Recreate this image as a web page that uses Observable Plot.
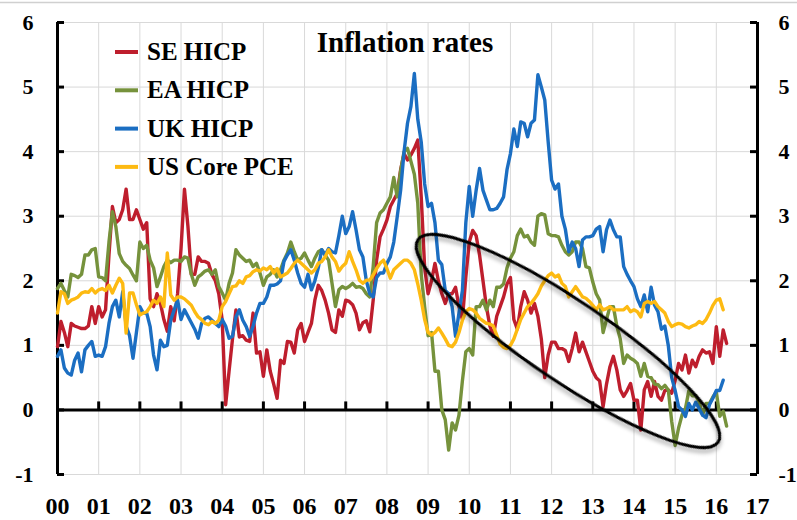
<!DOCTYPE html>
<html><head><meta charset="utf-8">
<script src="https://cdn.jsdelivr.net/npm/d3@7"></script>
<script src="https://cdn.jsdelivr.net/npm/@observablehq/plot@0.6"></script>
<style>
body{margin:0;background:#fff;}
#chart svg text{font-family:"Liberation Serif","Times New Roman",serif;font-weight:bold;fill:#000;}
</style></head><body><div id="chart"></div>
<script>
// Monthly year-on-year inflation rates, starting January 2000
const seHicp = [
0.98,1.37,1.2,0.98,1.34,1.3,1.28,1.26,1.26,1.3,1.6,1.34,
1.6,1.44,1.55,2.4,3.15,2.9,2.95,3.1,3.42,2.95,2.95,3.1,
2.95,2.8,2.9,1.72,1.6,1.8,1.65,1.4,1.22,1.6,1.38,1.8,
2.5,3.42,2.85,2.1,2.1,2.37,2.3,2.3,2.27,2.1,2.0,1.8,
1.39,0.08,0.6,1.1,1.55,1.13,1.15,1.08,1.06,1.5,0.88,0.9,
0.52,0.93,0.6,0.4,0.18,0.77,0.72,1.06,1.05,0.88,1.24,1.34,
1.06,1.2,1.34,1.7,1.93,1.85,1.7,1.5,1.24,1.2,1.55,1.45,
1.7,1.68,1.63,1.5,1.24,1.35,1.38,1.21,1.7,2.32,2.68,2.8,
2.94,3.15,3.25,3.35,3.72,3.97,3.87,3.95,4.05,4.18,3.3,2.2,
1.8,2.0,2.27,2.0,1.8,1.65,1.8,1.8,1.9,1.6,1.4,2.06,
2.6,2.78,2.7,2.4,2.0,1.6,1.3,1.14,1.45,1.6,1.75,1.95,
2.05,1.4,1.25,1.6,1.83,1.7,1.5,1.65,1.45,1.1,0.5,0.85,
1.05,1.05,0.95,0.95,0.92,0.75,0.95,1.19,0.9,1.05,0.9,0.75,
0.6,0.5,0.45,0.05,0.4,0.67,0.83,0.62,0.31,0.21,0.3,0.41,
0.15,0.15,-0.31,0.31,0.44,0.21,0.44,0.21,0.15,0.3,0.31,0.26,
0.46,0.72,0.62,0.85,0.57,0.77,0.67,0.83,0.93,0.88,0.9,0.72,
1.29,0.83,1.24,1.03];

const eaHicp = [
1.88,1.96,1.85,1.75,2.1,2.08,2.05,2.1,2.4,2.4,2.48,2.5,
2.06,2.05,2.0,2.6,3.07,2.84,2.42,2.3,2.24,2.19,2.09,2.0,
2.6,2.5,2.55,2.32,2.2,1.91,2.06,2.22,2.32,2.28,2.32,2.32,
2.3,2.37,2.35,2.1,1.93,2.06,2.1,2.15,2.17,2.1,2.17,1.91,
1.81,1.7,1.96,2.12,2.48,2.4,2.35,2.3,2.32,2.22,2.27,2.12,
1.93,2.06,2.1,2.17,2.06,2.17,2.32,2.43,2.6,2.45,2.32,2.35,
2.43,2.32,2.22,2.35,2.45,2.48,2.4,2.32,1.96,1.6,1.86,1.91,
1.88,1.91,1.96,1.9,1.91,1.88,1.8,1.75,2.22,2.9,3.05,3.1,
3.2,3.3,3.6,3.3,3.7,4.0,4.05,3.85,3.65,3.2,2.1,1.6,
1.15,1.2,0.6,0.6,0.0,-0.15,-0.62,-0.2,-0.31,-0.08,0.45,0.9,
0.95,0.85,1.6,1.6,1.7,1.55,1.7,1.6,1.9,1.9,1.95,2.2,
2.35,2.45,2.7,2.8,2.68,2.7,2.6,2.55,3.0,3.04,3.02,2.73,
2.7,2.7,2.68,2.55,2.45,2.4,2.45,2.6,2.6,2.5,2.22,2.2,
1.98,1.8,1.7,1.2,1.4,1.6,1.6,1.3,1.1,0.72,0.85,0.8,
0.77,0.72,0.52,0.72,0.52,0.5,0.4,0.39,0.33,0.38,0.31,-0.18,
-0.55,-0.28,-0.08,0.02,0.3,0.22,0.22,0.12,-0.08,0.1,0.1,0.2,
0.28,-0.1,-0.02,-0.25];

const ukHicp = [
0.83,0.93,0.65,0.57,0.54,0.77,0.88,0.59,0.93,1.0,1.06,0.83,
0.85,0.83,0.98,1.34,1.6,1.7,1.44,1.83,1.3,1.15,0.8,1.2,
1.6,1.5,1.5,1.29,0.85,0.62,1.08,0.98,1.0,1.39,1.55,1.7,
1.4,1.55,1.45,1.35,1.25,1.11,1.34,1.42,1.44,1.39,1.34,1.29,
1.4,1.3,1.11,1.14,1.44,1.55,1.39,1.29,1.14,1.3,1.5,1.65,
1.65,1.75,1.93,1.93,1.95,2.0,2.3,2.4,2.48,2.32,2.12,1.96,
1.9,2.1,1.86,2.0,2.2,2.48,2.4,2.5,2.45,2.43,2.7,3.0,
2.73,2.84,3.07,2.79,2.48,2.37,2.0,1.8,1.75,2.05,2.12,2.12,
2.27,2.37,2.6,2.99,3.4,4.0,4.44,4.7,5.21,4.5,4.15,3.5,
3.15,3.2,2.9,2.32,2.25,1.85,1.8,1.6,1.14,1.5,1.85,2.9,
3.46,3.0,3.4,3.74,3.4,3.25,3.1,3.1,3.12,3.2,3.3,3.72,
3.97,4.35,4.08,4.46,4.44,4.23,4.44,4.49,5.19,5.0,4.8,4.15,
3.56,3.42,3.5,3.0,2.8,2.45,2.6,2.5,2.22,2.63,2.68,2.68,
2.7,2.8,2.84,2.45,2.79,2.94,2.79,2.68,2.68,2.22,2.1,2.0,
1.91,1.72,1.6,1.78,1.52,1.9,1.62,1.52,1.25,1.3,1.0,0.5,
0.3,0.05,0.0,-0.1,0.1,0.0,0.12,0.02,-0.08,-0.12,0.08,0.18,
0.3,0.3,0.46];

const usCorePce = [
1.5,1.83,1.8,1.65,1.7,1.72,1.75,1.81,1.83,1.82,1.88,1.81,
1.86,1.88,1.85,1.93,1.81,1.93,2.04,1.96,1.19,1.81,1.81,1.63,
1.47,1.5,1.52,1.6,1.7,1.65,1.75,1.6,2.43,1.78,1.7,1.75,
1.75,1.72,1.67,1.62,1.52,1.44,1.4,1.34,1.32,1.37,1.34,1.39,
1.6,1.68,1.8,1.91,1.92,2.0,1.96,2.06,2.08,2.14,2.17,2.15,
2.2,2.17,2.22,2.12,2.19,2.06,2.09,2.12,2.19,2.27,2.32,2.27,
2.22,2.17,2.12,2.17,2.27,2.3,2.37,2.48,2.37,2.3,2.15,2.22,
2.27,2.45,2.3,2.17,2.01,1.96,2.01,2.01,2.09,2.19,2.27,2.32,
2.19,2.04,2.17,2.22,2.27,2.32,2.32,2.27,2.17,1.95,1.7,1.4,
1.2,1.16,1.2,1.27,1.19,1.1,1.0,0.98,1.05,1.2,1.39,1.52,
1.57,1.55,1.5,1.42,1.38,1.34,1.33,1.3,1.16,1.02,0.97,0.95,
1.0,1.1,1.25,1.4,1.5,1.6,1.65,1.72,1.8,1.92,2.0,2.08,
2.12,2.06,2.09,1.96,1.91,1.75,1.83,1.91,1.83,1.75,1.73,1.68,
1.62,1.55,1.63,1.55,1.57,1.6,1.55,1.55,1.55,1.55,1.6,1.52,
1.55,1.52,1.44,1.65,1.68,1.65,1.68,1.6,1.55,1.5,1.37,1.29,
1.32,1.34,1.33,1.29,1.27,1.3,1.32,1.37,1.34,1.4,1.5,1.62,
1.7,1.72,1.55];

const seriesNames = ["SE HICP", "EA HICP", "UK HICP", "US Core PCE"];
const seriesColors = ["#BE1E2D", "#76923C", "#1B6EC2", "#FDBA12"];
const seriesValues = [seHicp, eaHicp, ukHicp, usCorePce];
const startYear = 2000;
const yearTicks = d3.range(2000, 2018);           // 00 ... 17
const valueTicks = d3.range(-1, 7);               // -1 ... 6
const chartTitle = "Inflation rates";

const toRows = (vals) => vals.map((v, i) => ({date: startYear + i / 12, value: v}));

const grid = "#d9d9d9";
const chart = Plot.plot({
  width: 797, height: 520,
  marginLeft: 57, marginRight: 40, marginTop: 22, marginBottom: 46,
  x: {domain: [2000, 2017]},
  y: {domain: [-1, 6]},
  style: {fontFamily: "Liberation Serif", background: "#fff"},
  marks: [
    Plot.gridX(yearTicks.slice(1, -1), {stroke: grid, strokeOpacity: 1, strokeWidth: 1}),
    Plot.gridY(valueTicks, {stroke: grid, strokeOpacity: 1, strokeWidth: 1}),
    Plot.ruleX([2000, 2017], {stroke: "#000", strokeWidth: 3}),
    Plot.ruleY(valueTicks, {x1: 2000, x2: 2000, insetRight: -7, stroke: "#000", strokeWidth: 3}),
    Plot.ruleY(valueTicks, {x1: 2017, x2: 2017, insetLeft: -7, stroke: "#000", strokeWidth: 3}),
    Plot.ruleY([0], {stroke: "#000", strokeWidth: 3}),
    Plot.ruleX(yearTicks.slice(1, -1), {y1: 0, y2: 0, insetTop: -8, stroke: "#000", strokeWidth: 3}),
    ...seriesValues.map((vals, k) =>
      Plot.line(toRows(vals), {x: "date", y: "value", stroke: seriesColors[k], strokeWidth: 3.4, strokeLinejoin: "round"})),
    Plot.axisY(valueTicks, {anchor: "left", tickSize: 0, tickPadding: 24, fontSize: 22, label: null, tickFormat: d => String(d)}),
    Plot.axisY(valueTicks, {anchor: "right", tickSize: 0, tickPadding: 21, fontSize: 22, label: null, tickFormat: d => String(d)}),
    Plot.axisX(yearTicks, {anchor: "bottom", tickSize: 0, tickPadding: 22, fontSize: 24, label: null,
      tickFormat: d => String(d % 100).padStart(2, "0")})
  ]
});
document.getElementById("chart").appendChild(chart);

// annotations: frame line, title, legend, ellipse
const svg = d3.select(chart);
const xs = chart.scale("x"), ys = chart.scale("y");
svg.append("line").attr("x1", 0).attr("x2", 797).attr("y1", 2.5).attr("y2", 2.5)
  .attr("stroke", "#d0d0d0").attr("stroke-width", 1.5);

const defs = svg.append("defs");
const f = defs.append("filter").attr("id", "shadow").attr("x", "-20%").attr("y", "-20%").attr("width", "140%").attr("height", "140%");
f.append("feDropShadow").attr("dx", 2).attr("dy", 3).attr("stdDeviation", 2)
  .attr("flood-color", "#000").attr("flood-opacity", 0.35);

const ellCx = xs.apply(2012.41), ellCy = ys.apply(1.06);
svg.append("ellipse").attr("cx", ellCx).attr("cy", ellCy).attr("rx", 181).attr("ry", 40)
  .attr("transform", `rotate(34 ${ellCx} ${ellCy})`)
  .attr("fill", "none").attr("stroke", "#000").attr("stroke-width", 3).attr("filter", "url(#shadow)");

svg.append("text").attr("x", 405).attr("y", 52).attr("text-anchor", "middle")
  .attr("font-size", 29).text(chartTitle);

seriesNames.forEach((name, k) => {
  const yb = 60 + k * 38.3;
  svg.append("line").attr("x1", 115).attr("x2", 138).attr("y1", yb - 8).attr("y2", yb - 8)
    .attr("stroke", seriesColors[k]).attr("stroke-width", 4);
  svg.append("text").attr("x", 147).attr("y", yb).attr("text-anchor", "start")
    .attr("font-size", 25).text(name);
});
</script></body></html>
